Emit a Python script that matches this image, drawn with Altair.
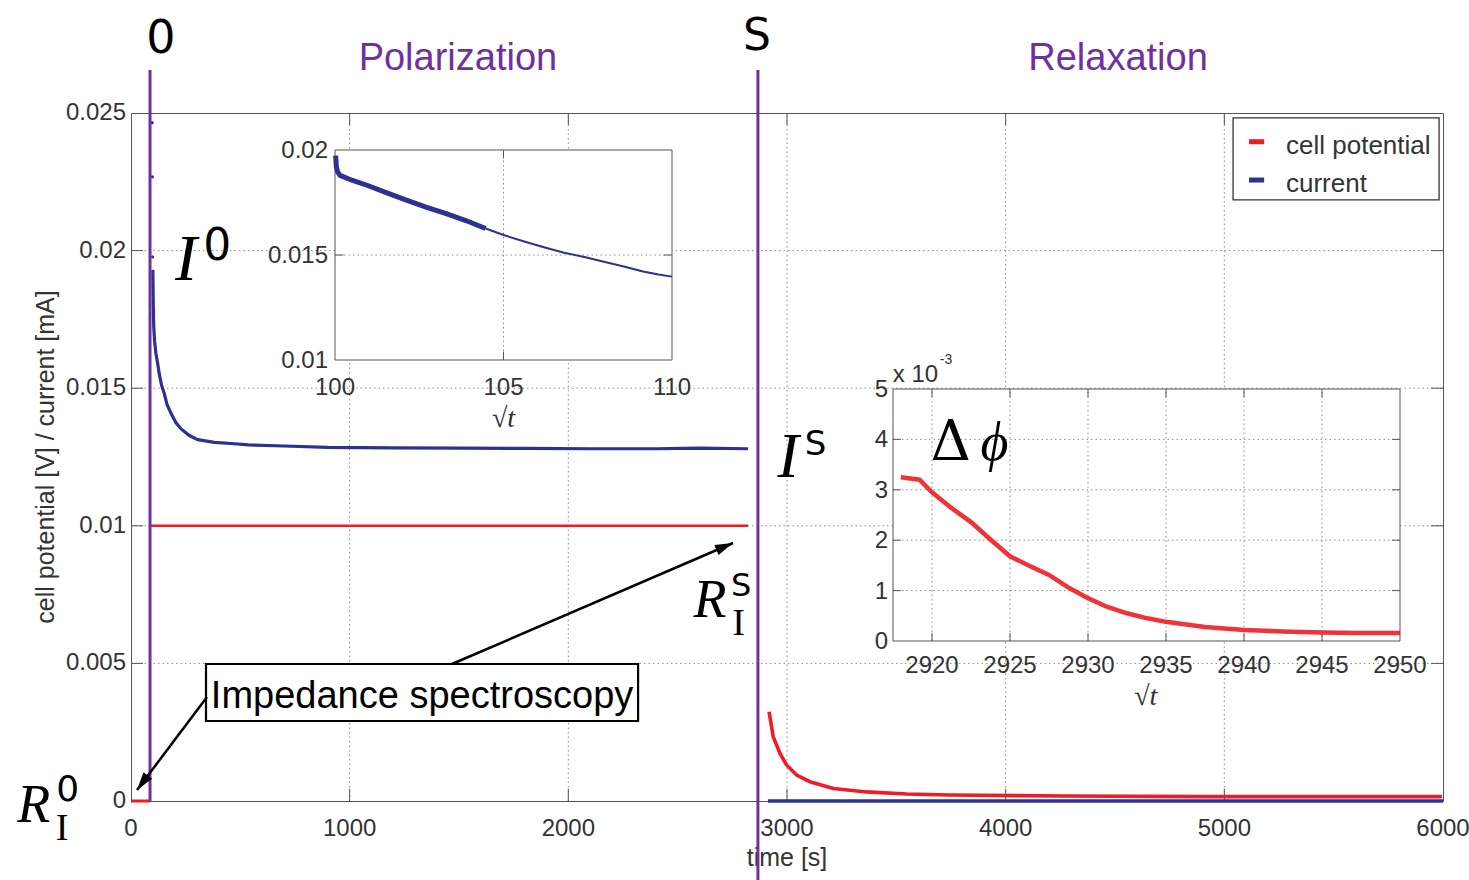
import altair as alt
import pandas as pd

# ---------------- data ----------------
# polarization phase: current [mA]
pol_time = [100, 102, 104, 108, 114, 122, 129, 140, 152, 165, 183, 205,
            229, 267, 305, 381, 457, 538, 700, 900, 1200, 1500, 1804, 2100, 2400, 2600, 2822]
pol_current = [0.0193, 0.0180, 0.01723, 0.0167, 0.01626, 0.0159,
               0.01553, 0.0151, 0.01481, 0.0144, 0.01409, 0.01375, 0.01352, 0.01328, 0.01313,
               0.01303, 0.01299, 0.01294, 0.0129, 0.01285, 0.01283, 0.01282, 0.01281, 0.0128,
               0.0128, 0.01282, 0.0128]
# isolated first samples of the current
spike_time = [97, 98, 99]
spike_current = [0.02465, 0.02268, 0.01977]
# cell potential [V]
pre_time = [0, 87]
pre_potential = [0.0, 0.0]
pol_pot_time = [87, 2822]
pol_potential = [0.01, 0.01]
# relaxation phase
rel_time = [2918, 2937, 2968, 2998, 3044, 3105, 3212, 3364, 3547, 3741, 4271, 4912, 5995]
rel_potential = [0.003245, 0.00233, 0.001726, 0.001308, 0.000945, 0.000701, 0.000454,
                 0.00033, 0.000254, 0.00022, 0.00018, 0.00016, 0.00016]
rel_cur_time = [2913, 6000]
rel_current = [0.0, 0.0]

# inset 1: current vs sqrt(t)
ins1_dense_x = [100.02, 100.04, 100.08, 100.15, 100.5, 100.97, 101.5, 102.14, 102.7, 103.3, 103.9, 104.47]
ins1_dense_y = [0.01973, 0.0192, 0.01895, 0.01879, 0.01856, 0.01831, 0.01798, 0.0176, 0.01728,
                0.01697, 0.01663, 0.01626]
ins1_thin_x = [104.47, 105, 105.64, 106.2, 106.8, 107.4, 107.98, 108.6, 109.14, 109.6, 110]
ins1_thin_y = [0.01626, 0.01595, 0.01563, 0.01537, 0.01511, 0.0149, 0.01468, 0.01444,
               0.01421, 0.01407, 0.01397]

# inset 2: potential (x 10^-3) vs sqrt(t)
ins2_x = [2918.0, 2919.2, 2920, 2921.2, 2922.5, 2923.8, 2925, 2926.2, 2927.5, 2928.8, 2930,
          2931.2, 2932.5, 2933.8, 2935, 2937.5, 2940, 2942.5, 2945, 2947.5, 2950]
ins2_y = [3.25, 3.2, 2.95, 2.65, 2.36, 2.0, 1.68, 1.5, 1.31, 1.05, 0.85, 0.68, 0.55, 0.45,
          0.38, 0.28, 0.22, 0.19, 0.17, 0.16, 0.16]

# phase boundaries
phase_time = [87, 2867]
phase_top = [0.02656, 0.02656]
phase_bottom = [0.0, -0.00287]

# tick values
main_xticks = [0, 1000, 2000, 3000, 4000, 5000, 6000]
main_yticks = [0, 0.005, 0.01, 0.015, 0.02, 0.025]
ins1_xticks = [100, 105, 110]
ins1_yticks = [0.01, 0.015, 0.02]
ins2_xticks = [2920, 2925, 2930, 2935, 2940, 2945, 2950]
ins2_yticks = [0, 1, 2, 3, 4, 5]

series_names = ["cell potential", "current"]
series_colors = ["#ee1c24", "#2e3192"]
PURPLE = "#7030a0"
GRID = "#8a8a8a"
FRAME = "#555555"
TXT = "#333333"

# ---------------- tables ----------------
rows = []
def add(ts, vs, series, seg, w):
    for t, v in zip(ts, vs):
        rows.append({"t": t, "v": v, "series": series, "seg": seg, "w": w})
add(pol_time, pol_current, "current", "c1", 3.2)
add(rel_cur_time, rel_current, "current", "c2", 3.5)
add(pre_time, pre_potential, "cell potential", "p0", 3)
add(pol_pot_time, pol_potential, "cell potential", "p1", 2.5)
add(rel_time, rel_potential, "cell potential", "p2", 3.6)
main_df = pd.DataFrame(rows)

xs = alt.Scale(domain=[0, 6000], nice=False, zero=False)
ys = alt.Scale(domain=[0, 0.025], nice=False, zero=False)
color_scale = alt.Scale(domain=series_names, range=series_colors)


def X(f, scale):
    return alt.X(f, type="quantitative", scale=scale, axis=None)


def Y(f, scale):
    return alt.Y(f, type="quantitative", scale=scale, axis=None)


def texts(rows_, xsc, ysc, align="center", baseline="alphabetic", **mk):
    df = pd.DataFrame(rows_, columns=["x", "y", "label", "size"])
    return alt.Chart(df).mark_text(baseline=baseline, align=align, **mk).encode(
        x=X("x", xsc), y=Y("y", ysc), text="label:N",
        size=alt.Size("size:Q", scale=None, legend=None))


def rules(rows_, xsc, ysc, **mk):
    df = pd.DataFrame(rows_, columns=["x", "x2", "y", "y2"])
    return alt.Chart(df).mark_rule(**mk).encode(
        x=X("x", xsc), x2="x2", y=Y("y", ysc), y2="y2")


def fmt(v):
    return f"{v:g}"


# ---------------- main layer ----------------
main_grid = rules([(t, t, 0, 0.025) for t in main_xticks[1:-1]] +
                  [(0, 6000, v, v) for v in main_yticks[1:-1]],
                  xs, ys, color=GRID, strokeDash=[1.5, 3], strokeWidth=1)
tick_rows = []
for t in main_xticks[1:-1]:
    tick_rows += [(t, t, 0, 0.00044), (t, t, 0.025, 0.02456)]
for v in main_yticks[1:-1]:
    tick_rows += [(0, 55, v, v), (6000, 5945, v, v)]
main_ticks = rules(tick_rows, xs, ys, color=FRAME, strokeWidth=1)

x_labels = texts([(t, 0, fmt(t), 24) for t in main_xticks], xs, ys, dy=35,
                 font="Liberation Sans", color=TXT)
y_labels = texts([(0, v, fmt(v), 24) for v in main_yticks], xs, ys, align="right",
                 baseline="middle", dx=-5, font="Liberation Sans", color=TXT)
x_title = texts([(3000, -0.00236, "time [s]", 25)], xs, ys, font="Liberation Sans", color=TXT)
y_title = texts([(-390, 0.0125, "cell potential [V] / current [mA]", 25)], xs, ys,
                baseline="middle", angle=270, font="Liberation Sans", color=TXT)

data_lines = alt.Chart(main_df).mark_line().encode(
    x=X("t", xs), y=Y("v", ys),
    color=alt.Color("series:N", scale=color_scale, legend=None),
    detail="seg:N",
    strokeWidth=alt.StrokeWidth("w:Q", scale=None, legend=None),
)
spike_pts = alt.Chart(pd.DataFrame({"t": spike_time, "v": spike_current})).mark_point(
    filled=True, size=10, color=series_colors[1], opacity=1).encode(x=X("t", xs), y=Y("v", ys))

phase_df = pd.DataFrame({"t": phase_time, "top": phase_top, "bottom": phase_bottom})
phase_lines = alt.Chart(phase_df).mark_rule(color=PURPLE, strokeWidth=3).encode(
    x=X("t", xs), y=Y("top", ys), y2="bottom")

# impedance box and arrows
box_df = pd.DataFrame({"x": [343], "x2": [2319], "y": [0.004978], "y2": [0.002907]})
imp_box = alt.Chart(box_df).mark_rect(fill="white", stroke="black", strokeWidth=2.2).encode(
    x=X("x", xs), x2="x2", y=Y("y", ys), y2="y2")
arrow_df = pd.DataFrame({"x": [347.6, 1468], "y": [0.003779, 0.004978],
                         "x2": [27.4, 2753], "y2": [0.0004, 0.009375], "ang": [217, 67]})
arrow_lines = alt.Chart(arrow_df).mark_rule(color="black", strokeWidth=2.5).encode(
    x=X("x", xs), x2="x2", y=Y("y", ys), y2="y2")
arrow_heads = alt.Chart(arrow_df).mark_point(
    shape="M0,0L0.6,2L-0.6,2Z", filled=True, color="black", opacity=1, size=324).encode(
    x=X("x2", xs), y=Y("y2", ys), angle=alt.Angle("ang:Q", scale=None))

# manual legend
leg_box = alt.Chart(pd.DataFrame({"x": [5040], "x2": [5982], "y": [0.024825], "y2": [0.021845]})).mark_rect(
    fill="white", stroke=TXT, strokeWidth=1.3).encode(x=X("x", xs), x2="x2", y=Y("y", ys), y2="y2")
leg_sym = alt.Chart(pd.DataFrame({"x": [5113, 5113], "x2": [5182, 5182], "y": [0.023957, 0.022564],
                                  "series": series_names})).mark_rule(strokeWidth=5).encode(
    x=X("x", xs), x2="x2", y=Y("y", ys),
    color=alt.Color("series:N", scale=color_scale, legend=None))
leg_txt = texts([(5282, 0.023499, "cell potential", 26), (5282, 0.02214, "current", 26)],
                xs, ys, align="left", font="Liberation Sans", color=TXT)

t_phase = texts([(137, 0.02718, "0", 46), (2863, 0.027289, "S", 44)], xs, ys,
                font="DejaVu Sans", color="black")
t_titles = texts([(1495, 0.02656, "Polarization", 38), (4514, 0.02656, "Relaxation", 38)], xs, ys,
                 font="Liberation Sans", color=PURPLE)
t_italic = texts([(252, 0.01893, "I", 66), (3005, 0.01178, "I", 64),
                  (-445, -0.000763, "R", 54), (2648, 0.006686, "R", 54)], xs, ys,
                 font="Liberation Serif", fontStyle="italic", color="black")
t_sub = texts([(-315, -0.00142, "I", 38), (2778, 0.00603, "I", 38)], xs, ys,
              font="Liberation Serif", color="black")
t_sup = texts([(395, 0.01966, "0", 44), (3130, 0.01257, "S", 34),
               (-290, 0.0, "0", 36), (2790, 0.00745, "S", 32)], xs, ys,
              font="DejaVu Sans", color="black")
t_imp = texts([(1331, 0.003379, "Impedance spectroscopy", 38)], xs, ys,
              font="Liberation Sans", color="black")

main = alt.layer(main_grid, main_ticks, x_labels, y_labels, x_title, y_title,
                 data_lines, spike_pts, phase_lines, imp_box, arrow_lines, arrow_heads,
                 leg_box, leg_sym, leg_txt, t_phase, t_titles, t_italic, t_sub, t_sup, t_imp)

# ---------------- inset 1 ----------------
i1x = alt.Scale(domain=[100, 110], range=[204, 541], nice=False, zero=False)
i1y = alt.Scale(domain=[0.01, 0.02], range=[247, 37], nice=False, zero=False)
i1_frame = alt.Chart(pd.DataFrame({"x": [100], "x2": [110], "y": [0.01], "y2": [0.02]})).mark_rect(
    fill="white", stroke=FRAME, strokeWidth=1).encode(
    x=X("x", i1x), x2="x2", y=Y("y", i1y), y2="y2")
i1_grid = rules([(105, 105, 0.01, 0.02), (100, 110, 0.015, 0.015)], i1x, i1y,
                color=GRID, strokeDash=[1.5, 3])
i1_ticks = rules([(105, 105, 0.01, 0.0104), (105, 105, 0.02, 0.0196),
                  (100, 100.25, 0.015, 0.015), (110, 109.75, 0.015, 0.015)], i1x, i1y, color=FRAME)
i1_xl = texts([(x, 0.01, fmt(x), 24) for x in ins1_xticks], i1x, i1y, dy=35,
              font="Liberation Sans", color=TXT)
i1_yl = texts([(100, y, fmt(y), 24) for y in ins1_yticks], i1x, i1y, align="right",
              baseline="middle", dx=-7, dy=1, font="Liberation Sans", color=TXT)
i1_dense = alt.Chart(pd.DataFrame({"x": ins1_dense_x, "y": ins1_dense_y})).mark_line(
    color=series_colors[1], strokeWidth=5).encode(x=X("x", i1x), y=Y("y", i1y))
i1_thin = alt.Chart(pd.DataFrame({"x": ins1_thin_x, "y": ins1_thin_y})).mark_line(
    color=series_colors[1], strokeWidth=2).encode(x=X("x", i1x), y=Y("y", i1y))
i1_lbl = texts([(105, 0.00681, "√t", 28)], i1x, i1y, font="Liberation Serif",
               fontStyle="italic", color=TXT)
inset1 = alt.layer(i1_frame, i1_grid, i1_ticks, i1_xl, i1_yl, i1_dense, i1_thin, i1_lbl)

# ---------------- inset 2 ----------------
i2x = alt.Scale(domain=[2917.5, 2950], range=[762, 1269], nice=False, zero=False)
i2y = alt.Scale(domain=[0, 5], range=[528, 276], nice=False, zero=False)
i2_frame = alt.Chart(pd.DataFrame({"x": [2917.5], "x2": [2950], "y": [0], "y2": [5]})).mark_rect(
    fill="white", stroke=FRAME, strokeWidth=1).encode(
    x=X("x", i2x), x2="x2", y=Y("y", i2y), y2="y2")
i2_grid = rules([(gx, gx, 0, 5) for gx in ins2_xticks[:-1]] +
                [(2917.5, 2950, gy, gy) for gy in ins2_yticks[1:-1]],
                i2x, i2y, color=GRID, strokeDash=[1.5, 3])
k_rows = []
for gx in ins2_xticks[:-1]:
    k_rows += [(gx, gx, 0, 0.16), (gx, gx, 5, 4.84)]
for gy in ins2_yticks[1:-1]:
    k_rows += [(2917.5, 2918.0, gy, gy), (2950, 2949.5, gy, gy)]
i2_ticks = rules(k_rows, i2x, i2y, color=FRAME)
i2_xl = texts([(x, 0, fmt(x), 24) for x in ins2_xticks], i2x, i2y, dy=32,
              font="Liberation Sans", color=TXT)
i2_yl = texts([(2917.5, y, fmt(y), 24) for y in ins2_yticks], i2x, i2y, align="right",
              baseline="middle", dx=-5, dy=1, font="Liberation Sans", color=TXT)
i2_line = alt.Chart(pd.DataFrame({"x": ins2_x, "y": ins2_y})).mark_line(
    color=series_colors[0], strokeWidth=4.5, opacity=0.9).encode(x=X("x", i2x), y=Y("y", i2y))
i2_lbl = texts([(2933.7, -1.27, "√t", 28)], i2x, i2y, font="Liberation Serif",
               fontStyle="italic", color=TXT)
i2_exp = texts([(2918.94, 5.139, "x 10", 24), (2920.9, 5.496, "-3", 14)], i2x, i2y,
               font="Liberation Sans", color=TXT)
i2_delta = texts([(2921.2, 3.59, "Δ", 56)], i2x, i2y, font="DejaVu Serif", color="black")
i2_phi = texts([(2924.0, 3.59, "ϕ", 54)], i2x, i2y, font="Liberation Serif",
               fontStyle="italic", color="black")
inset2 = alt.layer(i2_frame, i2_grid, i2_ticks, i2_xl, i2_yl, i2_line, i2_lbl, i2_exp,
                   i2_delta, i2_phi)

chart = alt.layer(main, inset1, inset2).resolve_scale(
    x="independent", y="independent"
).properties(
    width=1312, height=688,
    autosize=alt.AutoSizeParams(type="none"),
    padding={"left": 131, "top": 113, "right": 26, "bottom": 79},
    background="white",
).configure_view(
    stroke=FRAME, strokeWidth=1
)

chart.save("out.html", embed_options={"renderer": "svg", "actions": False})
